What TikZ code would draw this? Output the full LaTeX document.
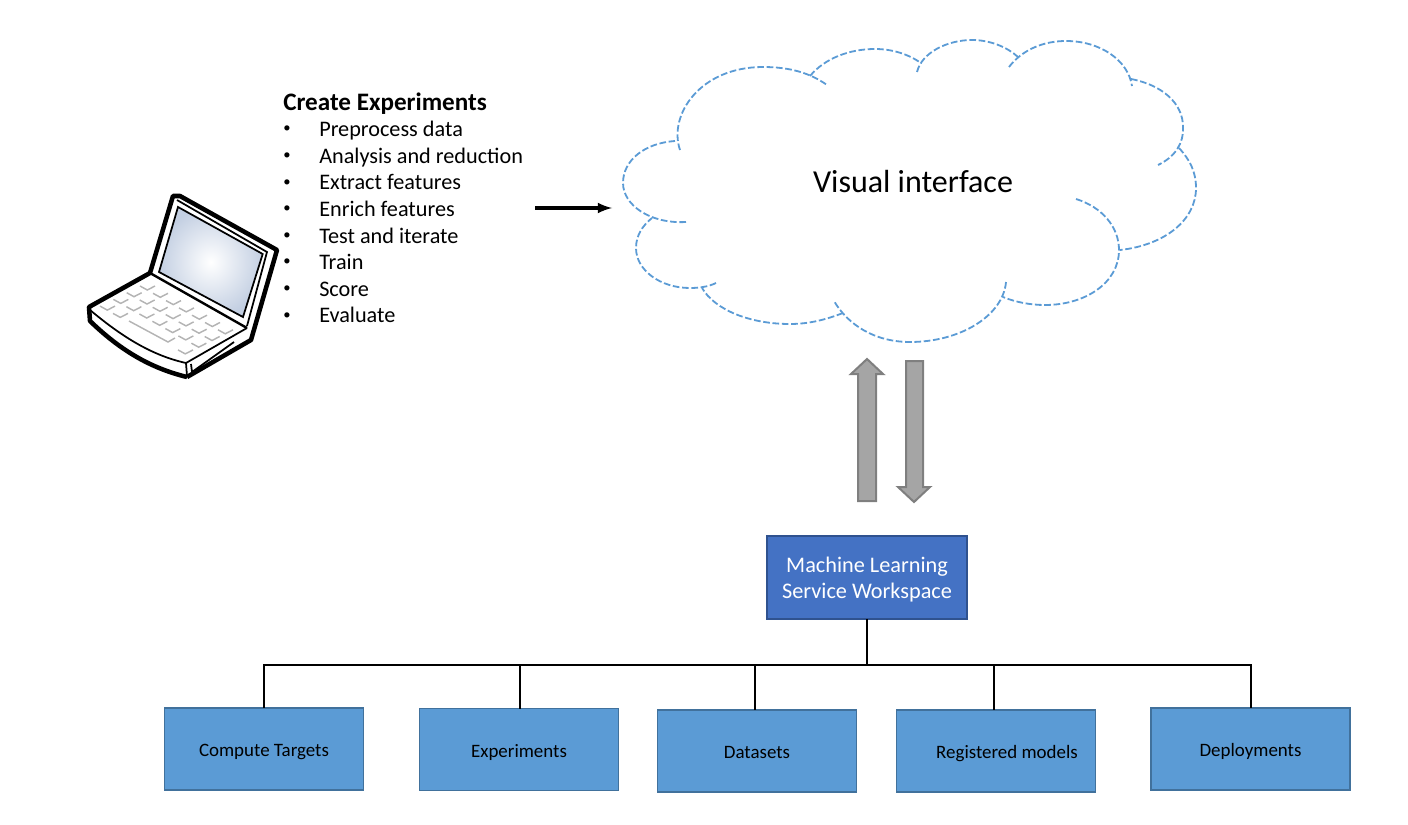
\documentclass[tikz,border=0pt]{standalone}
\usepackage{fontspec}
\setmainfont{Carlito}

\definecolor{cloudblue}{HTML}{5B9BD5}
\definecolor{leafline}{HTML}{41719C}
\definecolor{wsblue}{HTML}{4472C4}
\definecolor{wsline}{HTML}{2F528F}
\definecolor{arrowgray}{HTML}{A5A5A5}
\definecolor{arrowline}{HTML}{7F7F7F}
\definecolor{screenblue}{HTML}{C3CFE2}
\definecolor{keygray}{HTML}{B4B4B4}

\tikzset{
  cloudline/.style={color=cloudblue, line width=1.35pt, dash pattern=on 5pt off 2pt},
  leafbox/.style={draw=leafline, fill=cloudblue, line width=1.2pt, minimum width=149pt, minimum height=61.5pt, outer sep=0pt, text height=13.5pt, text depth=2pt, font=\fontsize{14.2}{17}\selectfont},
  wsbox/.style={draw=wsline, fill=wsblue, line width=1.4pt, minimum width=150pt, minimum height=62pt, outer sep=0pt, text=white, align=center, text depth=0pt, font=\fontsize{16.7}{19.5}\selectfont},
  treeline/.style={color=black, line width=1.5pt},
  bigarrow/.style={draw=arrowline, fill=arrowgray, line width=1.5pt},
  laptopline/.style={color=black, line width=3.4pt, line join=round},
  keyline/.style={color=keygray, line width=1.1pt}
}

\begin{document}
\begin{tikzpicture}[x=.75pt, y=-.75pt]
\useasboundingbox (0,0) rectangle (1408,824);

% laptop
\shade[inner color=white, outer color=screenblue] (178,207) -- (262.7,254) -- (243,317) -- (159,272) -- cycle;
\draw[line width=1.3pt] (178,207) -- (262.7,254) -- (243,317) -- (159,272) -- cycle;
\draw[line width=1.3pt] (177,200) -- (267,252) -- (247,326);
\draw[laptopline] (150,273) -- (173,196) -- (180,196) -- (277,250) -- (251,340) -- (187,377);
\draw[laptopline] (150,273) -- (89,307) -- (90,321) .. controls (120,350) and (150,368) .. (187,377);
\draw[line width=1.8pt] (150,273) -- (247,328);
\draw[line width=1.3pt] (90,310) .. controls (120,335) and (150,355) .. (186,363) -- (187,376);
\draw[line width=1.3pt] (186,363) -- (247,328);
\draw[line width=1.3pt] (191,364) -- (192,372) -- (234,342);

% keys
\foreach \i in {0,...,6}
  \foreach \j in {0,1,2}
    \draw[keyline, shift={(140+13*\i-13.3*\j,286+7.3*\i+6.7*\j)}] (0,0) -- (7.3,4) -- (15,0);
\foreach \i in {0,1,6}
  \draw[keyline, shift={(100+13*\i,306.1+7.3*\i)}] (0,0) -- (7.3,4) -- (15,0);
\draw[keyline] (129,321) -- (168,342) -- (175,338);

% text on the left
\node[anchor=west, inner sep=0pt, font=\fontsize{18.85}{22}\bfseries\selectfont] (title) at (283,103.5) {Create Experiments};
\foreach \t [count=\n] in {Preprocess data,Analysis and reduction,Extract features,Enrich features,Test and iterate,Train,Score,Evaluate}
{
  \node[anchor=center, inner sep=0pt, font=\fontsize{11}{13}\selectfont] (dot\n) at (287,102.9+26.6*\n) {•};
  \node[anchor=base west, inner sep=0pt, font=\fontsize{16.67}{20}\selectfont] (item\n) at (319,110+26.6*\n) {\t};
}

% arrow to the cloud
\coordinate (arrowstart) at (535,208);
\coordinate (arrowend) at (612,208);
\draw[-latex, line width=2.6pt] (arrowstart) -- (arrowend);

% cloud
\draw[cloudline] (680,150) .. controls (668,115) and (700,67) .. (763,67) .. controls (790,67) and (810,73) .. (827,85);
\draw[cloudline] (810,76) .. controls (825,58) and (850,49) .. (875,49) .. controls (892,49) and (908,54) .. (921,63);
\draw[cloudline] (917,72) .. controls (922,52) and (948,40) .. (972,40) .. controls (990,40) and (1007,47) .. (1018,57);
\draw[cloudline] (1009,67) .. controls (1022,50) and (1043,41) .. (1066,41) .. controls (1100,41) and (1128,60) .. (1132,86);
\draw[cloudline] (1131,79) .. controls (1162,85) and (1183,103) .. (1183,127) .. controls (1184,143) and (1175,157) .. (1158,165);
\draw[cloudline] (1179,148) .. controls (1190,160) and (1196,172) .. (1196,188) .. controls (1196,220) and (1165,245) .. (1120,250);
\draw[cloudline] (1076,199) .. controls (1102,207) and (1119,227) .. (1119,250) .. controls (1119,283) and (1085,305) .. (1045,305) .. controls (1030,305) and (1015,302) .. (1003,297);
\draw[cloudline] (1006,282) .. controls (1003,316) and (960,342) .. (910,342) .. controls (875,342) and (848,325) .. (834,301);
\draw[cloudline] (843,313) .. controls (825,320) and (808,324) .. (790,324) .. controls (750,324) and (715,310) .. (702,288);
\draw[cloudline] (716,283) .. controls (708,287) and (698,288) .. (690,288) .. controls (660,288) and (636,270) .. (636,248) .. controls (636,236) and (642,226) .. (652,218);
\draw[cloudline] (686,222) .. controls (650,224) and (623,205) .. (623,183) .. controls (623,160) and (645,143) .. (675,141);
\node[font=\fontsize{24}{28}\selectfont] (visual) at (913,182) {Visual interface};

% big arrows
\draw[bigarrow] (867,359) -- (883,374) -- (876,374) -- (876,501) -- (858,501) -- (858,374) -- (851,374) -- cycle;
\draw[bigarrow] (914,502) -- (930,487) -- (923,487) -- (923,361) -- (906,361) -- (906,487) -- (898,487) -- cycle;

% workspace and its five boxes
\node[wsbox] (ws) at (867,577.5) {Machine Learning\\Service Workspace};
\node[leafbox] (targets) at (264,749) {Compute Targets};
\node[leafbox] (experiments) at (519,749.5) {Experiments};
\node[leafbox] (datasets) at (757,751) {Datasets};
\node[leafbox] (models) at (996,751) {\hspace{16.5pt}Registered models};
\node[leafbox] (deployments) at (1250.5,749) {Deployments};

\coordinate (bus) at (867,665);
\draw[treeline] (ws.south) -- (bus);
\draw[treeline] (bus) -| (targets.north);
\draw[treeline] (bus) -| ([xshift=.75pt]experiments.north);
\draw[treeline] (bus) -| ([xshift=-1.5pt]datasets.north);
\draw[treeline] (bus) -| ([xshift=-1.5pt]models.north);
\draw[treeline] (bus) -| (deployments.north);
\end{tikzpicture}
\end{document}
